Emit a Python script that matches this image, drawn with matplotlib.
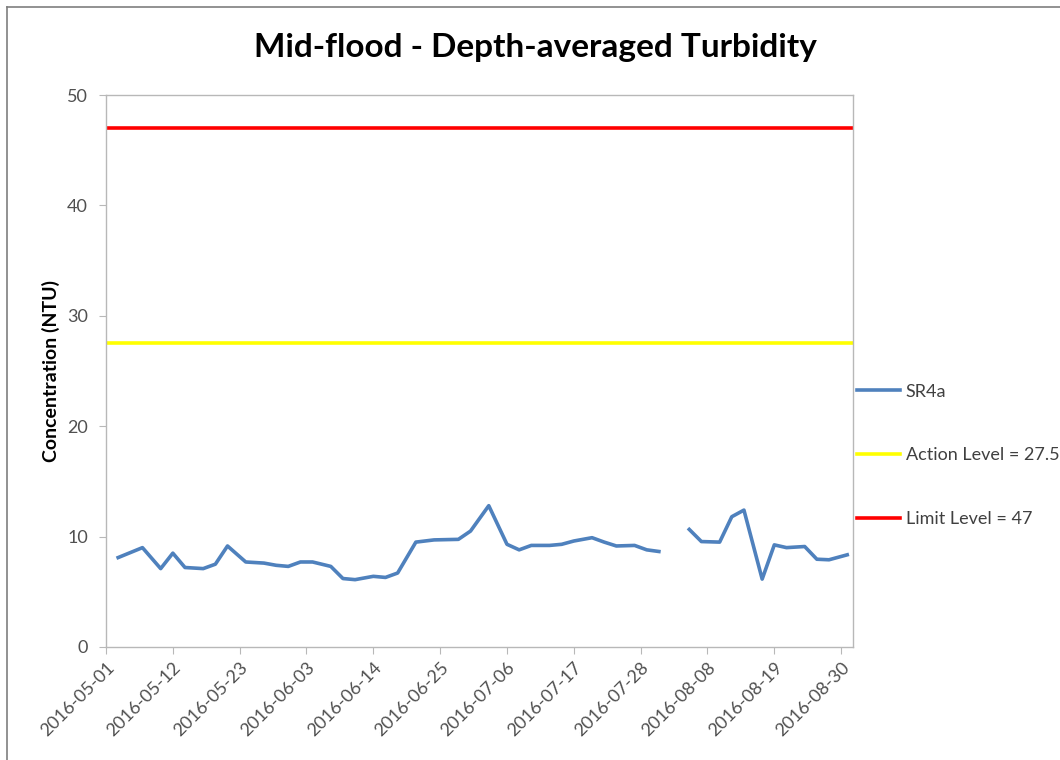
import pandas as pd
import matplotlib
matplotlib.use("Agg")
import matplotlib.pyplot as plt
import matplotlib.dates as mdates
from matplotlib.lines import Line2D
import numpy as np

plt.rcParams['font.family'] = ['Lato', 'DejaVu Sans']

# SR4a readings (NaN marks the gap in early August)
dates = ["2016-05-03", "2016-05-07", "2016-05-10", "2016-05-12", "2016-05-14",
         "2016-05-17", "2016-05-19", "2016-05-21", "2016-05-24", "2016-05-27",
         "2016-05-29", "2016-05-31", "2016-06-02", "2016-06-04", "2016-06-07",
         "2016-06-09", "2016-06-11", "2016-06-14", "2016-06-16", "2016-06-18",
         "2016-06-21", "2016-06-24", "2016-06-28", "2016-06-30", "2016-07-03",
         "2016-07-06", "2016-07-08", "2016-07-10", "2016-07-13", "2016-07-15",
         "2016-07-17", "2016-07-20", "2016-07-22", "2016-07-24", "2016-07-27",
         "2016-07-29", "2016-07-31", "2016-08-02", "2016-08-05", "2016-08-07",
         "2016-08-10", "2016-08-12", "2016-08-14", "2016-08-17", "2016-08-19",
         "2016-08-21", "2016-08-24", "2016-08-26", "2016-08-28", "2016-08-31"]
sr4a = [8.1, 9.0, 7.1, 8.5, 7.2,
        7.1, 7.5, 9.15, 7.7, 7.6,
        7.4, 7.3, 7.7, 7.7, 7.3,
        6.2, 6.1, 6.4, 6.3, 6.7,
        9.5, 9.7, 9.75, 10.5, 12.8,
        9.3, 8.8, 9.2, 9.2, 9.3,
        9.6, 9.9, 9.5, 9.15, 9.2,
        8.8, 8.65, np.nan, 10.65, 9.55,
        9.5, 11.8, 12.4, 6.15, 9.25,
        9.0, 9.1, 7.95, 7.9, 8.35]

action_level = 27.5
limit_level = 47

tick_dates = ["2016-05-01", "2016-05-12", "2016-05-23", "2016-06-03", "2016-06-14",
              "2016-06-25", "2016-07-06", "2016-07-17", "2016-07-28", "2016-08-08",
              "2016-08-19", "2016-08-30"]

x = pd.to_datetime(dates)
x_start = pd.Timestamp("2016-05-01")
x_end = pd.Timestamp("2016-09-01")

fig = plt.figure(figsize=(10.6, 7.6), dpi=100)
ax = fig.add_axes([0.1, 0.1487, 0.705, 0.7263])

ax.plot(x, sr4a, color='#4f81bd', linewidth=2.6, label='SR4a')
ax.plot([x_start, x_end], [action_level, action_level], color='#ffff00', linewidth=2.6,
        label='Action Level = 27.5')
ax.plot([x_start, x_end], [limit_level, limit_level], color='#ff0000', linewidth=2.6,
        label='Limit Level = 47')

ax.set_xlim(x_start, x_end)
ax.set_ylim(0, 50)
ax.set_yticks([0, 10, 20, 30, 40, 50])
ax.set_xticks(pd.to_datetime(tick_dates))
ax.xaxis.set_major_formatter(mdates.DateFormatter('%Y-%m-%d'))
plt.setp(ax.get_xticklabels(), rotation=45, ha='right', rotation_mode='anchor')

for s in ax.spines.values():
    s.set_color('#b8b8b8')
    s.set_linewidth(1)
ax.tick_params(axis='both', colors='#b8b8b8', labelcolor='#505050', labelsize=13,
               length=5, direction='out')
ax.tick_params(axis='x', pad=4)
ax.tick_params(axis='y', pad=8)

ax.set_ylabel('Concentration (NTU)', fontsize=14, fontweight='bold', labelpad=5)

fig.text(0.505, 0.937, 'Mid-flood - Depth-averaged Turbidity', ha='center', va='center',
         fontsize=24, fontweight='bold', color='black')

ax.legend(loc='center left', bbox_to_anchor=(1.0, 0.347), frameon=False, fontsize=13,
          labelspacing=2.65, handlelength=2.4, handletextpad=0.3, borderaxespad=0.0,
          borderpad=0.2, labelcolor='#404040')

# outer chart border
fig.add_artist(Line2D([7 / 1060, 7 / 1060], [0, 753 / 760], transform=fig.transFigure,
                      color='#7f7f7f', linewidth=1.2))
fig.add_artist(Line2D([7 / 1060, 1], [753 / 760, 753 / 760], transform=fig.transFigure,
                      color='#7f7f7f', linewidth=1.2))

fig.savefig('out.png', dpi=100)
